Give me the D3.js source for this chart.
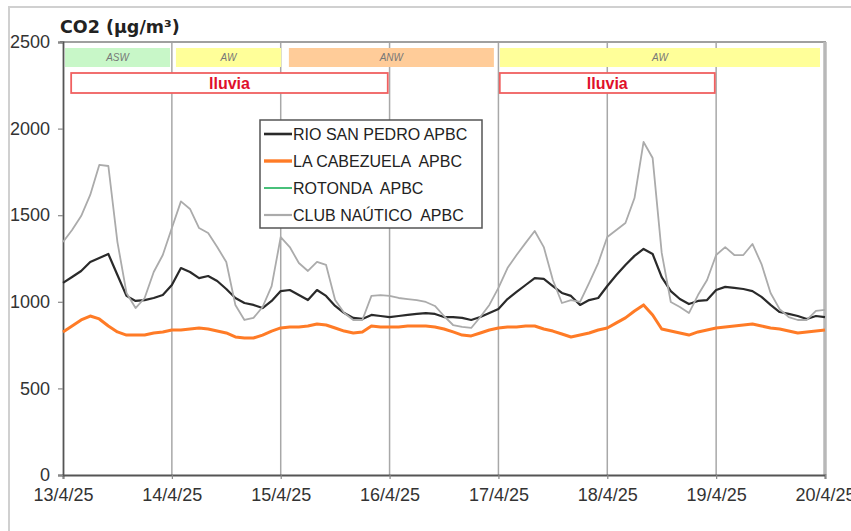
<!DOCTYPE html>
<html>
<head>
<meta charset="utf-8">
<script src="https://cdn.jsdelivr.net/npm/d3@7/dist/d3.min.js"></script>
<style>
  html, body { margin: 0; padding: 0; background: #fff; }
  svg { display: block; }
</style>
</head>
<body>
<svg id="chart" width="851" height="531"></svg>
<script>
// ---------------- DATA ----------------
const title = "CO2 (µg/m³)";
const startDate = new Date(2025, 3, 13, 0, 0);
const endDate = new Date(2025, 3, 20, 0, 0);
const stepHours = 2;
const yTicks = [0, 500, 1000, 1500, 2000, 2500];
const dayTicks = [13, 14, 15, 16, 17, 18, 19, 20];

const seriesNames = ["RIO SAN PEDRO APBC", "LA CABEZUELA  APBC", "ROTONDA  APBC", "CLUB NAÚTICO  APBC"];

const rioSanPedro = [1109,1143,1178,1230,1253,1276,1155,1034,1005,1010,1022,1039,
  1097,1195,1172,1137,1149,1120,1074,1022,993,982,964,1005,
  1062,1068,1039,1010,1068,1034,976,935,907,901,924,918,
  912,918,924,930,935,930,912,912,907,895,912,935,
  958,1016,1057,1097,1137,1132,1091,1051,1034,982,1010,1022,
  1091,1155,1213,1265,1305,1276,1143,1062,1016,987,1005,1010,
  1068,1086,1080,1074,1062,1028,982,941,930,918,901,918,912];

const laCabezuela = [826,860,895,918,901,860,826,808,808,808,820,826,
  837,837,843,849,843,831,820,797,791,791,808,831,
  849,855,855,860,872,866,849,831,820,826,860,855,
  855,855,860,860,860,855,843,826,808,803,820,837,
  849,855,855,860,860,843,831,814,797,808,820,837,
  849,878,907,947,982,924,843,831,820,808,826,837,
  849,855,860,866,872,860,849,843,831,820,826,831,837];

const rotonda = [];

const clubNautico = [1345,1415,1495,1617,1790,1784,1345,1051,964,1022,1172,1270,
  1426,1580,1536,1426,1397,1316,1230,982,895,907,970,1091,
  1374,1316,1224,1178,1230,1213,1010,935,895,895,1034,1039,
  1034,1022,1016,1010,999,976,918,866,855,849,912,982,
  1080,1195,1270,1340,1409,1316,1126,993,1010,999,1109,1224,
  1374,1415,1455,1599,1923,1830,1282,999,970,935,1039,1126,
  1270,1316,1270,1270,1334,1218,1051,958,912,895,895,947,953];

// wind bands (hours from start)
const windLabels = ["ASW", "AW", "ANW", "AW"];
const windStartH = [0.45, 24.9, 49.8, 96.3];
const windEndH = [23.6, 48.1, 95.0, 166.9];
const windFill = ["#c8f7c8", "#ffff99", "#ffcc99", "#ffff99"];

// rain boxes (hours from start)
const rainLabels = ["lluvia", "lluvia"];
const rainStartH = [1.8, 96.3];
const rainEndH = [71.6, 143.7];

// ---------------- CHART ----------------
const svg = d3.select("#chart");
const hour = 3600 * 1000;
const toDate = h => new Date(startDate.getTime() + h * hour);

const x = d3.scaleTime().domain([startDate, endDate]).range([63, 825]);
const y = d3.scaleLinear().domain([0, 2500]).range([475, 42]);

// outer border
svg.append("rect").attr("x", 9).attr("y", 7).attr("width", 900).attr("height", 600)
  .attr("fill", "none").attr("stroke", "#d0d0d0").attr("stroke-width", 2);

// title
svg.append("text").attr("x", 60).attr("y", 33)
  .attr("font-family", "DejaVu Sans, Verdana, sans-serif").attr("font-weight", "bold")
  .attr("font-size", 17.5).attr("fill", "#222").text(title);

// vertical day grid lines
const days = dayTicks.map(d => new Date(2025, 3, d));
svg.append("g").selectAll("line").data(days.slice(1, -1)).join("line")
  .attr("x1", d => x(d)).attr("x2", d => x(d))
  .attr("y1", y(2500)).attr("y2", y(0))
  .attr("stroke", "#a8a8a8").attr("stroke-width", 1.5);

// top and right frame
svg.append("line").attr("x1", 60).attr("x2", x(endDate) + 1).attr("y1", y(2500)).attr("y2", y(2500))
  .attr("stroke", "#a0a0a0").attr("stroke-width", 2);
svg.append("line").attr("x1", x(endDate)).attr("x2", x(endDate)).attr("y1", y(2500)).attr("y2", y(0))
  .attr("stroke", "#b8b8b8").attr("stroke-width", 3.5);

// wind bands
const wind = windLabels.map((l, i) => ({ label: l, s: windStartH[i], e: windEndH[i], fill: windFill[i] }));
const wg = svg.append("g");
wg.selectAll("rect").data(wind).join("rect")
  .attr("x", d => x(toDate(d.s))).attr("width", d => x(toDate(d.e)) - x(toDate(d.s)))
  .attr("y", 48).attr("height", 19).attr("fill", d => d.fill);
wg.selectAll("text").data(wind).join("text")
  .attr("x", d => (x(toDate(d.s)) + x(toDate(d.e))) / 2).attr("y", 61)
  .attr("text-anchor", "middle").attr("font-family", "Liberation Sans, Arial, sans-serif")
  .attr("font-style", "italic").attr("font-size", 10).attr("fill", "#777")
  .text(d => d.label);

// rain boxes
const rain = rainLabels.map((l, i) => ({ label: l, s: rainStartH[i], e: rainEndH[i] }));
const rg = svg.append("g");
rg.selectAll("rect").data(rain).join("rect")
  .attr("x", d => x(toDate(d.s))).attr("width", d => x(toDate(d.e)) - x(toDate(d.s)))
  .attr("y", 73).attr("height", 20).attr("fill", "#fff")
  .attr("stroke", "#f06060").attr("stroke-width", 1.8);
rg.selectAll("text").data(rain).join("text")
  .attr("x", d => (x(toDate(d.s)) + x(toDate(d.e))) / 2).attr("y", 88.5)
  .attr("text-anchor", "middle").attr("font-family", "Liberation Sans, Arial, sans-serif")
  .attr("font-weight", "bold").attr("font-size", 16).attr("fill", "#e0102a")
  .text(d => d.label);

// axes
const fmt = d3.timeFormat("%-d/%-m/%y");
const xAxis = d3.axisBottom(x).tickValues(days).tickFormat(fmt).tickSize(4).tickPadding(9);
const gx = svg.append("g").attr("transform", `translate(0,${y(0)})`).call(xAxis);
gx.select(".domain").attr("stroke", "#555").attr("stroke-width", 1.8);
gx.selectAll(".tick line").attr("stroke", "#888").attr("stroke-width", 1.2);
gx.selectAll("text").attr("font-family", "Liberation Sans Narrow, Arial Narrow, sans-serif")
  .attr("font-size", 18).attr("fill", "#333");

const yAxis = d3.axisLeft(y).tickValues(yTicks).tickFormat(d3.format("d")).tickSize(5).tickPadding(8);
const gy = svg.append("g").attr("transform", `translate(${x(startDate)},0)`).call(yAxis);
gy.select(".domain").attr("stroke", "#555").attr("stroke-width", 1.8);
gy.selectAll(".tick line").attr("stroke", "#888").attr("stroke-width", 1.2);
gy.selectAll("text").attr("font-family", "Liberation Sans Narrow, Arial Narrow, sans-serif")
  .attr("font-size", 18).attr("fill", "#333");

// lines
const line = d3.line().x((d, i) => x(toDate(i * stepHours))).y(d => y(d));
const series = [
  { name: seriesNames[0], values: rioSanPedro, color: "#2a2a2a", width: 2.2 },
  { name: seriesNames[1], values: laCabezuela, color: "#ff7b26", width: 3 },
  { name: seriesNames[2], values: rotonda, color: "#48c07a", width: 1.6 },
  { name: seriesNames[3], values: clubNautico, color: "#ababab", width: 1.8 }
];
svg.append("g").selectAll("path").data(series.filter(s => s.values.length)).join("path")
  .attr("d", s => line(s.values)).attr("fill", "none")
  .attr("stroke", s => s.color).attr("stroke-width", s => s.width)
  .attr("stroke-linejoin", "round");

// legend
const lg = svg.append("g");
lg.append("rect").attr("x", 260).attr("y", 120).attr("width", 222).attr("height", 108)
  .attr("fill", "#fff").attr("stroke", "#555").attr("stroke-width", 1.5);
const ly = [134, 161, 188, 215];
series.forEach((s, i) => {
  lg.append("line").attr("x1", 264).attr("x2", 292).attr("y1", ly[i]).attr("y2", ly[i])
    .attr("stroke", s.color).attr("stroke-width", s.width + 0.4);
  lg.append("text").attr("x", 293).attr("y", ly[i] + 6)
    .attr("font-family", "Liberation Sans, Arial, sans-serif").attr("font-size", 16)
    .attr("fill", "#222").style("white-space", "pre").text(s.name);
});
</script>
</body>
</html>
